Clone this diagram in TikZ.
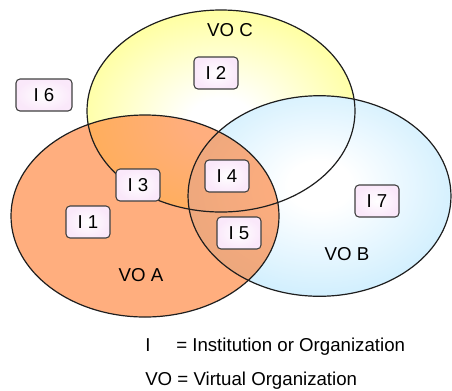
\documentclass[tikz,border=0pt]{standalone}
\usepackage{fontspec}
\setmainfont{Liberation Sans}
\definecolor{yelc}{RGB}{255,255,148}
\definecolor{bluc}{RGB}{198,235,254}
\definecolor{orac}{RGB}{255,120,40}
\definecolor{boxc}{RGB}{250,232,250}
\definecolor{edgec}{RGB}{30,30,30}
\pgfdeclareradialshading{yshade}{\pgfpoint{0bp}{-3bp}}{color(0bp)=(white);color(6bp)=(white);color(30bp)=(yelc);color(70bp)=(yelc)}
\pgfdeclareradialshading{bshade}{\pgfpoint{0bp}{3bp}}{color(0bp)=(white);color(6bp)=(white);color(32bp)=(bluc);color(70bp)=(bluc)}
\begin{document}
\begin{tikzpicture}[x=0.75pt,y=-0.75pt,
  outl/.style={draw=edgec,line width=0.9pt},
  boxst/.style={draw=edgec!85,line width=0.8pt,rounded corners=3pt,inner color=white,outer color=boxc,minimum width=33pt,minimum height=24pt,inner sep=0pt,font=\fontsize{14}{16}\selectfont},
  lbl/.style={inner sep=0pt,font=\fontsize{14}{16}\selectfont}]
\useasboundingbox (0,0) rectangle (452,390);
\coordinate (cA) at (145,216);
\coordinate (cB) at (319.5,196);
\coordinate (cC) at (221,111);
% fills
\fill[shading=yshade] (cC) ellipse [x radius=100.5pt, y radius=75.75pt];
\fill[shading=bshade] (cB) ellipse [x radius=98.6pt, y radius=75.2pt];
\fill[orac,fill opacity=0.6] (cA) ellipse [x radius=100.5pt, y radius=75.75pt];
% outlines
\draw[outl] (cC) ellipse [x radius=100.5pt, y radius=75.75pt];
\draw[outl] (cB) ellipse [x radius=98.6pt, y radius=75.2pt];
\draw[outl] (cA) ellipse [x radius=100.5pt, y radius=75.75pt];
% boxes
\node[boxst] (i2) at (216,73) {I 2};
\node[boxst,minimum width=42pt] (i6) at (44,95) {I 6};
\node[boxst] (i3) at (138,185) {I 3};
\node[boxst] (i4) at (227,176) {I 4};
\node[boxst] (i1) at (88,222) {I 1};
\node[boxst] (i5) at (239,233) {I 5};
\node[boxst] (i7) at (377,201) {I 7};
% labels
\node[lbl,anchor=base] (voc) at (230,36) {VO C};
\node[lbl,anchor=base] (voa) at (141,281) {VO A};
\node[lbl,anchor=base] (vob) at (347,260) {VO B};
% legend
\node[lbl,anchor=base west] (li) at (145,351) {I};
\node[lbl,anchor=base west] (ld) at (176,351) {= Institution or Organization};
\node[lbl,anchor=base west] (lv) at (145,385) {VO = Virtual Organization};
\end{tikzpicture}
\end{document}
